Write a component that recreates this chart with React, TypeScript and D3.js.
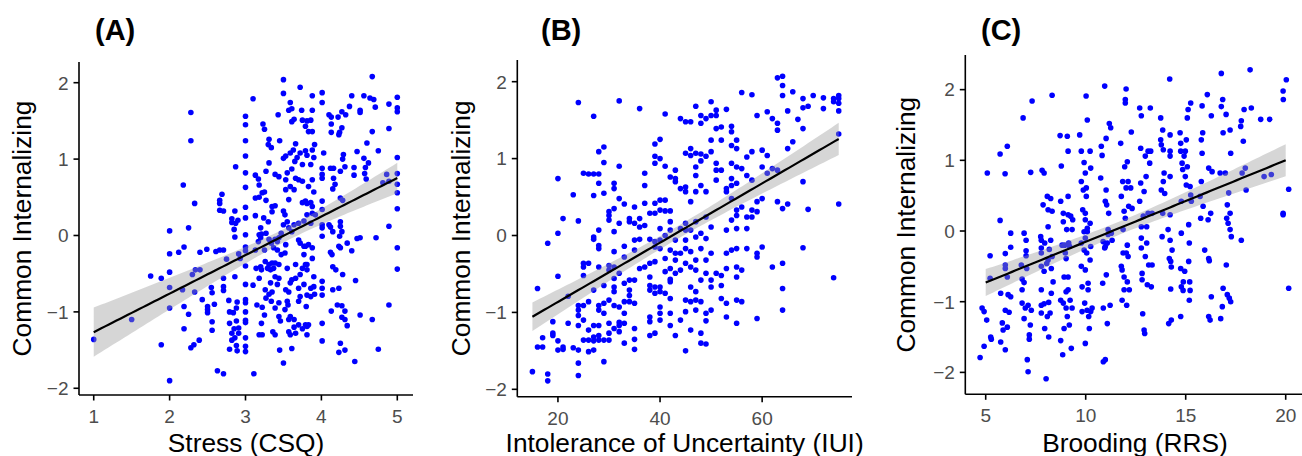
import * as d3 from "d3";
import { useEffect } from "react";

// tick values
const yTicks = [-2, -1, 0, 1, 2];
const stressTicks = [1, 2, 3, 4, 5];
const iuiTicks = [20, 40, 60];
const rrsTicks = [5, 10, 15, 20];

// (A) Stress (CSQ) vs Common Internalizing
const stressPoints: [number, number][] = [
  [1,-1.36],[1.5,-1.1],[1.75,-0.53],[1.89,-1.43],[1.89,-0.56],[2,-1.9],[2,-0.95],[2,-0.68],[2,-0.48],[2,-0.24],[2,0.06],
  [2.12,-0.22],[2.18,0.66],[2.19,-0.15],[2.19,-0.93],[2.19,-1.22],[2.17,-0.71],[2.25,0.1],[2.25,-1.03],[2.28,1.61],[2.28,1.24],
  [2.28,-1.47],[2.3,-0.51],[2.32,-1.43],[2.33,0.42],[2.33,-0.74],[2.34,-0.45],[2.39,-1.37],[2.4,-0.22],[2.4,-0.45],[2.43,-0.84],
  [2.49,-0.18],[2.5,-0.93],[2.5,-0.97],[2.5,-1.01],[2.55,-0.68],[2.56,-0.75],[2.56,-1.13],[2.56,-1.24],[2.59,-0.9],[2.61,-0.21],
  [2.63,-1.77],[2.66,-0.19],[2.66,0.46],[2.66,0.42],[2.66,0.33],[2.69,0.54],[2.71,0.32],[2.71,-0.19],[2.71,-0.67],[2.71,-0.72],
  [2.71,-1.81],[2.71,-0.56],[2.75,-0.31],[2.78,-0.85],[2.79,-1],[2.79,-1.15],[2.79,-1.49],[2.82,0.22],[2.82,0.17],[2.82,-1.28],
  [2.82,-1.37],[2.84,-1.01],[2.85,-1.22],[2.86,-0.02],[2.86,-0.54],[2.86,0.32],[2.87,0.9],[2.87,0.16],[2.88,-1.12],[2.88,-1.44],
  [2.89,-1.51],[2.89,-0.87],[2.9,0.2],[2.91,-0.24],[2.91,-1.21],[2.91,-1.28],[2.93,-0.3],[2.85,0.08],[2.88,-0.95],[2.86,-1.34],
  [3,1.56],[3,1.45],[3,1.24],[3,1.04],[3,0.82],[3,0.63],[3,0.37],[3,0.23],[3,0.01],[3,-0.15],[3,-0.2],[3,-0.4],[3,-0.64],
  [3,-0.84],[3,-0.88],[3,-1],[3,-1.11],[3,-1.14],[3,-1.34],[3,-1.45],[3,-1.52],
  [3.1,1.79],[3.23,1.46],[3.25,1.39],[3.13,0.79],[3.17,0.74],[3.18,0.66],[3.22,0.56],[3.13,0.49],[3.18,0.5],[3.13,0.26],
  [3.2,0.1],[3.18,0.01],[3.2,-0.03],[3.17,-0.08],[3.21,0.02],[3.13,-0.19],[3.14,-0.43],[3.2,-0.41],[3.21,-0.45],[3.18,-0.56],
  [3.1,-0.65],[3.15,-0.91],[3.22,-0.94],[3.21,-1.15],[3.18,-1.3],[3.22,-1.3],[3.11,-1.81],
  [3.5,2.04],[3.5,1.86],[3.43,1.58],[3.31,1.26],[3.3,1.19],[3.34,1.15],[3.31,0.95],[3.45,1.24],[3.27,0.84],[3.39,0.8],
  [3.44,0.77],[3.25,0.57],[3.27,0.46],[3.35,0.38],[3.39,0.39],[3.24,0.23],[3.3,0.18],[3.35,0.31],[3.27,0.03],[3.31,-0.05],
  [3.34,-0.1],[3.39,-0.05],[3.42,-0.08],[3.44,-0.03],[3.47,0.03],[3.37,-0.16],[3.42,-0.19],[3.26,-0.34],[3.31,-0.38],
  [3.35,-0.36],[3.39,-0.36],[3.44,-0.38],[3.29,-0.43],[3.33,-0.45],[3.37,-0.43],[3.25,-0.19],[3.47,-0.25],[3.39,-0.54],
  [3.44,-0.56],[3.33,-0.62],[3.42,-0.64],[3.26,-0.71],[3.31,-0.77],[3.35,-0.74],[3.27,-0.82],[3.34,-0.86],[3.44,-0.88],
  [3.39,-0.95],[3.25,-1.04],[3.44,-1.06],[3.46,-1.12],[3.36,-1.26],[3.39,-1.3],[3.45,-1.5],[3.5,-1.67],
  [3.59,1.74],[3.61,1.66],[3.72,1.94],[3.57,1.64],[3.74,1.64],[3.64,1.52],[3.61,1.49],[3.75,1.51],[3.66,1.2],[3.63,1.12],
  [3.59,1.08],[3.53,1.04],[3.5,1.01],[3.72,1.08],[3.68,1.02],[3.65,0.97],[3.75,0.93],[3.61,0.87],[3.66,0.75],[3.7,0.73],
  [3.55,0.82],[3.53,0.73],[3.75,0.71],[3.59,0.64],[3.53,0.6],[3.64,0.6],[3.57,0.47],[3.5,0.32],[3.52,0.27],[3.75,0.43],
  [3.55,0.18],[3.64,0.14],[3.7,0.16],[3.5,0.14],[3.57,0.1],[3.61,0.05],[3.53,-0.12],[3.72,-0.1],[3.77,-0.14],[3.52,-0.23],
  [3.7,-0.06],[3.66,-0.38],[3.75,-0.43],[3.79,-0.38],[3.55,-0.43],[3.61,-0.58],[3.66,-0.56],[3.72,-0.51],[3.59,-0.62],
  [3.53,-0.71],[3.57,-0.74],[3.7,-0.69],[3.77,-0.64],[3.72,-0.8],[3.7,-0.86],[3.55,-0.86],[3.52,-0.97],[3.56,-0.91],
  [3.59,-1.06],[3.64,-1.1],[3.64,-1.2],[3.57,-1.26],[3.59,-1.3],[3.7,-1.17],[3.75,-1.22],[3.57,-1.1],[3.61,-1.48],
  [3.66,-1.28],[3.79,-1.17],[3.81,-1.19],
  [3.88,1.83],[4.01,1.87],[4.01,1.74],[3.88,1.64],[3.86,1.51],[3.81,1.5],[3.83,1.36],[3.88,1.36],[3.79,1.43],[3.91,1.19],
  [3.88,1.12],[3.79,1.11],[3.81,1.05],[3.9,1.02],[4.03,1.08],[3.86,0.93],[4.01,0.88],[4.01,0.8],[4.01,0.75],[3.88,0.73],
  [3.83,0.64],[3.79,0.45],[3.86,0.43],[3.9,0.57],[3.81,0.42],[3.88,0.38],[4.01,0.45],[3.88,0.29],[3.81,0.27],[3.92,0.27],
  [4.01,0.34],[3.86,0.16],[3.77,0.19],[4.01,0.14],[4.01,0.1],[4.01,-0.01],[3.79,-0.14],[3.83,-0.12],[3.88,-0.16],
  [3.77,-0.25],[3.88,-0.3],[3.81,-0.38],[3.81,-0.45],[3.9,-0.54],[3.9,-0.67],[3.86,-0.69],[4.01,-0.6],[4.01,-0.69],
  [4.01,-0.78],[3.81,-0.78],[3.86,-0.8],[3.91,-0.77],[3.8,-0.93],[3.83,-1.17],[3.81,-1.3],[4.01,-1.15],[4.01,-1.38],
  [4.1,1.58],[4.13,1.55],[4.22,1.55],[4.27,1.62],[4.32,1.58],[4.13,1.46],[4.13,1.35],[4.27,1.41],[4.24,1.35],[4.23,1.32],
  [4.12,0.88],[4.16,0.88],[4.16,0.75],[4.18,0.67],[4.15,0.61],[4.29,1.06],[4.28,1],[4.31,0.9],[4.25,0.84],[4.25,0.49],
  [4.28,0.46],[4.1,0.14],[4.12,0.11],[4.15,0.05],[4.25,0.18],[4.25,0.12],[4.27,0.05],[4.24,-0.01],[4.12,-0.22],
  [4.14,-0.25],[4.25,-0.16],[4.23,-0.14],[4.34,-0.1],[4.4,-0.2],[4.15,-0.41],[4.19,-0.45],[4.28,-0.51],[4.23,-0.69],
  [4.15,-0.71],[4.21,-0.91],[4.27,-0.92],[4.31,-0.99],[4.13,-0.99],[4.27,-1.07],[4.31,-1.1],[4.34,-1.18],[4.25,-1.41],
  [4.23,-1.53],[4.31,-1.5],[4.45,-0.59],[4.44,-1.65],
  [4.4,1.83],[4.56,1.83],[4.37,1.69],[4.51,1.64],[4.51,1.61],[4.67,2.08],[4.64,1.8],[4.69,1.78],[4.71,1.68],[4.67,1.36],
  [4.75,1.11],[4.6,1.21],[4.56,1.01],[4.47,1.1],[4.43,0.89],[4.43,0.79],[4.58,0.89],[4.57,0.81],[4.62,0.95],[4.59,0.74],
  [4.81,0.69],[4.86,0.8],[4.89,0.71],[4.89,1.72],[4.89,1.4],[5,1.81],[5,1.67],[5,1.62],[5,1.02],[5,0.81],[5,0.67],
  [5,0.56],[5,0.35],[5,-0.16],[5,-0.44],[4.89,0.12],[4.72,-0.03],[4.51,-0.03],[4.47,-0.04],[4.89,-0.91],[4.51,-1.04],
  [4.67,-1.1],[4.75,-1.49],
];

// (B) Intolerance of Uncertainty (IUI) vs Common Internalizing
const iuiPoints: [number, number][] = [
  [15,-1.77],[16,-0.69],[16,-1.45],[17,-1.45],[17,-1.33],[18,-0.1],[18,-1.8],[18,-1.89],[19,-1.12],[19,-1.27],[19,-1.3],
  [20,0.74],[20,0.03],[20,-0.53],[20,-1.37],[20,-1.49],[21,0.22],[21,-1.45],[21,-1.48],[22,-0.79],[22,-1.14],[23,0.53],
  [23,-1.46],[24,1.73],[24,0.19],[24,-0.91],[24,-0.97],[24,-1.04],[24,-1.17],[24,-1.49],[24,-1.66],[24,-1.82],
  [25,0.81],[25,-0.36],[25,-0.41],[25,-0.52],[25,-0.91],[25,-1.1],[25,-1.36],[26,0.8],[26,-0.36],[26,-0.86],[26,-1.23],
  [26,-1.36],[26,-1.51],[27,0.8],[27,1.55],[27,0.52],[27,-0.02],[27,-0.05],[27,-0.71],[27,-1.32],[27,-1.49],[27,-1.17],
  [27,-1.37],[28,0.8],[28,1.09],[28,0.68],[28,0.07],[28,-0.13],[28,-0.17],[28,-0.41],[28,-0.91],[28,-0.97],[28,-1.17],
  [28,-1.3],[28,-1.36],[29,1.15],[29,0.95],[29,0.55],[29,-0.65],[29,-0.88],[29,-1.01],[29,-1.36],[29,-1.64],
  [30,0.31],[30,0.26],[30,0.2],[30,-0.39],[30,-0.45],[30,-0.84],[30,-1.14],[30,-1.27],[30,-1.36],
  [31,0.68],[31,0.61],[31,0.35],[31,0.05],[31,-0.21],[31,-0.41],[31,-0.56],[31,-0.67],[31,-0.73],[31,-0.91],[31,-1.21],
  [32,1.75],[32,0.9],[32,0.48],[32,0.16],[32,-0.49],[32,-0.93],[32,-1.17],[32,-1.25],[32,-1.13],
  [33,0.41],[33,-0.14],[33,-0.28],[33,-0.62],[33,-0.86],[33,-1.01],[33,-1.14],[33,-1.4],
  [34,0.18],[34,0.22],[34,-0.58],[34,-0.71],[34,-0.78],[34,-0.86],
  [35,0.37],[35,0.16],[35,-0.06],[35,-0.19],[35,-0.58],[35,-0.88],[35,-1.21],[35,-1.35],[35,-1.48],
  [36,1.65],[36,0.22],[36,0.11],[36,-0.05],[36,-0.43],[37,0.81],[37,0.65],[37,0.42],[37,0.13],[37,-0.41],
  [38,0.29],[38,-0.05],[38,-0.54],[38,-0.65],[38,-0.71],[38,-1.06],[38,-1.12],[38,-1.3],[38,-0.36],
  [39,1.19],[39,1.03],[39,0.94],[39,0.42],[39,0.29],[39,-0.08],[39,-0.15],[39,-0.34],[39,-0.67],[39,-0.75],[39,-1.27],
  [40,1.25],[40,1],[40,0.46],[40,0.33],[40,0.09],[40,-0.06],[40,-0.17],[40,-0.67],[40,-0.73],[40,-0.93],[40,-1.01],[40,-1.1],
  [41,1.58],[41,0.9],[41,0.46],[41,0.32],[41,0],[41,-0.3],[41,-0.47],[41,-0.75],
  [42,0.76],[42,0.32],[42,0.18],[42,0.07],[42,-0.19],[42,-0.43],[42,-0.57],[42,-0.6],[42,-0.82],[42,-1.01],[42,-1.17],
  [43,0.85],[43,0.74],[43,0.7],[43,-0.06],[43,-0.23],[43,-0.32],[43,-0.49],[43,-1.3],
  [44,1.52],[44,0.61],[44,0.09],[44,-0.23],[44,-0.45],[44,-1.1],
  [45,1.48],[45,1.07],[45,0.63],[45,0.57],[45,0.16],[45,0.07],[45,-0.06],[45,-0.17],[45,-0.36],[45,-0.84],[45,-0.99],[45,-1.5],
  [46,1.48],[46,1.13],[46,1.04],[46,0.44],[46,0.07],[46,-0.21],[46,-0.41],[46,-0.67],[46,-0.86],[46,-1.23],
  [47,1.68],[47,1.07],[47,0.89],[47,0.78],[47,0.57],[47,0.18],[47,-0.02],[47,-0.32],[47,-0.45],[47,-0.73],[47,-0.84],[47,-0.97],
  [48,1.56],[48,1.46],[48,1.06],[48,0.97],[48,0.65],[48,0.03],[48,-0.17],[48,-0.58],[48,-0.86],[48,-1.27],[48,-1.4],
  [49,1.52],[49,1.03],[49,0.57],[49,0.24],[49,-0.04],[49,-0.32],[49,-0.49],[49,-1.01],[49,-1.11],[49,-1.41],
  [50,1.74],[50,1.56],[50,1.24],[50,1.09],[50,0.11],[50,-0.23],[50,-0.58],[50,-0.67],[50,-0.97],
  [51,1.63],[51,1.56],[51,1.39],[51,0.94],[51,0.85],[51,0.72],[51,-0.49],
  [52,1.41],[52,1.24],[52,0.85],[52,-0.52],[52,-0.65],[52,-0.82],
  [53,1.64],[53,0.61],[53,0.57],[53,0.07],[53,-0.23],[53,-0.43],[53,-0.88],[53,-1.06],
  [54,1.42],[54,1.35],[54,1.17],[54,0.94],[54,0.74],[54,0.65],[54,0.48],[54,0.2],[54,-0.19],
  [55,1.24],[55,1.13],[55,0.89],[55,0.68],[55,0.33],[55,0.26],[55,0.09],[55,-0.17],[55,-0.41],[55,-0.54],[55,-0.84],[55,-1.14],
  [56,1.86],[56,0.87],[56,0.37],[56,-0.45],[56,-0.86],[57,1.02],[57,0.78],[57,0.24],[57,0.09],[57,-0.17],
  [58,1.83],[58,1.09],[58,0.72],[58,0.33],[58,0.24],[59,1.56],[59,0.44],[59,0.31],[59,-0.23],[59,-0.28],[59,-1.08],
  [60,1.11],[60,0.89],[60,0.48],[60,-0.15],[61,1.61],[61,1.04],[61,0.81],[62,1.52],[62,0.87],[62,-0.41],
  [63,1.46],[63,1.37],[63,0.85],[63,0.44],[63,2.05],[64,2.07],[64,1.95],[64,1.82],[64,0.35],[64,-0.36],[64,-0.69],[64,-0.97],
  [65,1.62],[65,1.13],[65,0.41],[66,1.87],[66,1.22],[67,1.51],[68,1.78],[68,1.66],[68,1.39],[68,0.7],[68,-0.16],
  [69,1.68],[69,0.34],[70,1.82],[72,1.79],[72,1.65],[74,1.78],[74,1.74],[74,-0.55],[75,1.82],[75,1.78],[75,1.72],
  [75,1.62],[75,1.32],[75,0.41],
];

// (C) Brooding (RRS) vs Common Internalizing
const rrsPoints: [number, number][] = [
  [4.72,-1.79],[4.82,-1.09],[4.92,-1.14],[4.92,-1.63],[5.05,-1.26],[5.08,0.82],[5.22,-0.35],[5.22,-0.67],[5.25,-1.5],
  [5.28,-1.53],[5.72,0.15],[5.72,1.09],[5.75,-0.88],[5.75,-1.57],[5.83,-1.3],[5.87,-1.4],[5.97,0.81],[5.98,-0.32],
  [5.98,-0.48],[5.98,-0.53],[5.98,-1.12],[5.98,-1.68],[6.08,1.2],[6.08,-0.65],[6.08,-1.36],[6.12,-0.9],[6.17,-1.15],
  [6.25,-0.03],[6.25,-0.23],[6.25,-0.93],[6.78,-0.48],[6.82,-0.68],[6.82,-0.83],[6.82,-1.02],[6.87,1.6],[6.92,-0.03],
  [6.92,-0.73],[6.92,-1.24],[6.98,-1.09],[7.02,-0.13],[7.02,-0.28],[7.02,-0.35],[7.05,-0.53],[7.08,-1.82],[7.12,-1.99],
  [7.12,-1.05],[7.18,-1.47],[7.18,-1.53],[7.23,-1.33],[7.25,0.83],[7.28,-1.12],[7.32,1.84],
  [7.75,-0.08],[7.78,-0.13],[7.78,-0.24],[7.78,-0.31],[7.78,-0.5],[7.78,-0.83],[7.78,-1.05],[7.78,-1.16],[7.82,0.86],
  [7.87,0.37],[7.92,0.82],[7.92,-0.57],[7.92,-1.03],[7.95,-1.38],[7.95,-0.17],[8.02,-2.09],[8.05,-0.46],[8.08,0.49],
  [8.08,-1.21],[8.12,0.06],[8.12,0.3],[8.12,-0.41],[8.15,-1.01],[8.15,-1.5],[8.18,-0.26],[8.22,-1.16],[8.25,0.46],
  [8.25,-0.13],[8.28,-0.53],[8.28,-0.88],[8.32,1.92],[8.32,0.28],[8.32,-0.36],[8.37,-0.72],
  [8.72,1.35],[8.75,0.42],[8.75,-0.98],[8.75,-1.55],[8.78,0.92],[8.82,-0.2],[8.85,-1.75],[8.88,0.25],[8.88,0.13],
  [8.88,-1.02],[8.92,-0.65],[8.92,-1.38],[8.95,-0.2],[8.98,-0.31],[9.02,-0.39],[9.02,-0.86],[9.02,-1.09],[9.05,0.02],
  [9.08,-1.21],[9.08,1.34],[9.12,1.13],[9.12,0.49],[9.12,0.23],[9.12,-0.65],[9.12,-0.83],[9.15,-0.17],[9.18,-1.33],
  [9.2,-0.22],[9.22,-0.98],[9.25,0.21],[9.28,-1.66],[9.32,0.02],[9.32,-1.09],[9.35,0.16],
  [9.7,1.36],[9.78,0.7],[9.78,1.13],[9.78,-0.17],[9.78,-0.5],[9.82,-0.79],[9.82,-1.14],[9.85,0.3],[9.88,0.58],[9.92,0.97],
  [9.92,-0.01],[9.92,-0.27],[9.95,-1.02],[9.98,0.82],[9.98,0.25],[9.98,0.16],[9.98,-0.1],[9.98,-0.55],[9.98,-1.59],
  [10.02,1.91],[10.03,0.61],[10.03,0.49],[10.05,-0.31],[10.07,-1.12],[10.08,1.57],[10.08,0.04],[10.08,-0.01],[10.12,-0.74],
  [10.12,-0.83],[10.15,-1.21],[10.18,-1.38],[10.22,1.13],[10.22,0.11],[10.22,-0.41],[10.25,0.89],[10.25,-0.22],[10.25,-1.14],
  [10.32,-1.09],
  [10.75,0.75],[10.78,1.2],[10.82,1.07],[10.85,-0.74],[10.87,-0.15],[10.88,-1.09],[10.88,-1.85],[10.95,2.05],[10.95,-0.24],
  [10.98,-1.82],[10.98,0.42],[10.98,-0.22],[11.02,1.31],[11.02,0.58],[11.03,-0.62],[11.05,0.37],[11.08,-1.31],[11.08,-0.17],
  [11.12,0.02],[11.12,-0.05],[11.15,0.25],[11.18,1.52],[11.22,-1.05],[11.25,1.46],[11.28,-0.03],[11.32,-0.13],
  [11.75,1.24],[11.78,0.49],[11.78,-0.5],[11.82,-0.55],[11.82,-0.98],[11.85,0.7],[11.87,0.02],[11.87,-0.31],[11.92,0.28],
  [11.92,-0.65],[11.92,-0.83],[11.95,0.91],[11.98,1.86],[11.98,1.81],[11.98,0.18],[12.02,2.01],[12.02,0.61],[12.03,-0.31],
  [12.05,-1.05],[12.08,0.98],[12.08,-0.2],[12.08,-0.72],[12.12,0.7],[12.12,-0.36],[12.15,0.35],[12.18,-0.83],[12.25,0.61],
  [12.28,1.4],[12.32,0.32],
  [12.7,1.74],[12.7,0.42],[12.75,1.17],[12.75,0.68],[12.78,1.63],[12.78,0.06],[12.78,-0.1],[12.78,-0.24],[12.82,-0.6],
  [12.82,-0.69],[12.85,-1.17],[12.88,0.21],[12.92,0.56],[12.92,-1.4],[12.95,-1.45],[12.98,1.06],[12.98,-0.36],[13.02,0.77],
  [13.05,0.06],[13.05,-0.17],[13.08,-0.76],[13.12,1.13],[13.12,0.25],[13.15,-0.48],[13.2,0.96],[13.23,1.74],[13.25,1.13],
  [13.28,-0.79],[13.32,-0.48],[13.32,0.25],
  [13.75,1.6],[13.75,1.29],[13.78,1.22],[13.78,0.58],[13.82,-0.08],[13.85,1.43],[13.85,0.25],[13.88,1.15],[13.88,0.7],
  [13.92,0.82],[13.95,0.53],[14.12,0.02],[14.15,-1.31],[14.18,-0.39],[14.2,2.15],[14.22,1.36],[14.22,1.13],[14.22,1.06],
  [14.22,0.77],[14.22,0.23],[14.22,-0.13],[14.25,-0.43],[14.25,-0.82],[14.28,-1.26],[14.28,-0.51],[14.32,-0.27],
  [14.72,1.39],[14.75,1.24],[14.75,1.13],[14.75,-0.53],[14.75,-1.21],[14.78,0.42],[14.78,-0.03],[14.78,-0.79],[14.82,0.96],
  [14.85,0.87],[14.87,-0.84],[14.88,-0.72],[14.92,1.06],[14.95,-0.57],[14.98,1.13],[14.98,0.77],[15.03,1.29],[15.03,0.65],
  [15.08,1.6],[15.08,0.91],[15.12,1.72],[15.15,-0.43],[15.15,0.09],[15.18,-0.17],[15.18,-0.98],[15.2,-0.72],[15.22,-0.84],
  [15.22,0.63],[15.25,1.81],[15.25,0.51],[15.28,0.42],
  [15.72,0.49],[15.75,0.18],[15.78,1.29],[15.78,0.7],[15.82,1.77],[15.82,1.1],[15.85,1.39],[15.87,0.35],[15.95,-0.27],
  [16.08,1.93],[16.12,0.16],[16.15,0.89],[16.15,-0.39],[16.15,-1.21],[16.18,-0.42],[16.22,-1.26],[16.25,0.25],[16.28,1.63],
  [16.28,-0.93],[16.32,0.84],
  [16.72,0.82],[16.75,-1.24],[16.78,2.23],[16.78,1.76],[16.83,-1.07],[16.85,1.86],[16.87,1.39],[16.87,-0.81],[16.98,0.82],
  [17.02,1.65],[17.03,-0.48],[17.05,0.18],[17.08,0.37],[17.08,-0.9],[17.12,0.11],[17.15,0.54],[17.18,-0.95],[17.22,1.43],
  [17.22,0.25],[17.22,0.02],[17.25,1.1],[17.25,-1],[17.28,-0.08],
  [17.75,1.48],[17.78,-0.13],[17.78,1.56],[17.82,0.82],[17.88,1.27],[17.92,1.72],[17.98,0.89],[18.02,0.58],[18.22,2.28],
  [18.28,1.74],[18.75,1.58],[18.92,0.77],[19.2,1.58],[19.28,0.8],[19.87,1.98],[19.88,1.86],[19.87,0.25],[19.87,0.23],
  [20.03,2.14],[20.15,0.59],[20.15,-0.81],
];

type Pt = [number, number];

const panels = [
  {
    key: "A", title: "(A)", xLabel: "Stress (CSQ)", points: stressPoints, xTicks: stressTicks, fitRange: [1, 5],
    xDomain: [0.806, 5.207], yDomain: [-2.088, 2.271], xRange: [79, 413], yRange: [395, 62],
    titleX: 95, yTitleX: 30.5,
  },
  {
    key: "B", title: "(B)", xLabel: "Intolerance of Uncertainty (IUI)", points: iuiPoints, xTicks: iuiTicks, fitRange: [15, 75],
    xDomain: [12.04, 77.6], yDomain: [-2.096, 2.282], xRange: [517.3, 852], yRange: [396.7, 60],
    titleX: 541, yTitleX: 469.5,
  },
  {
    key: "C", title: "(C)", xLabel: "Brooding (RRS)", points: rrsPoints, xTicks: rrsTicks, fitRange: [5, 20],
    xDomain: [3.98, 20.95], yDomain: [-2.31, 2.49], xRange: [965.3, 1304.7], yRange: [394.3, 55],
    titleX: 981, yTitleX: 915,
  },
];

function fitLine(points: Pt[], range: number[]) {
  const n = points.length;
  const mx = d3.mean(points, (d) => d[0]) as number;
  const my = d3.mean(points, (d) => d[1]) as number;
  const sxx = d3.sum(points, (d) => (d[0] - mx) ** 2);
  const sxy = d3.sum(points, (d) => (d[0] - mx) * (d[1] - my));
  const b = sxy / sxx;
  const a = my - b * mx;
  const sse = d3.sum(points, (d) => (d[1] - a - b * d[0]) ** 2);
  const s = Math.sqrt(sse / (n - 2));
  const t = 1.966;
  return d3.range(81).map((i) => {
    const x = range[0] + ((range[1] - range[0]) * i) / 80;
    const y = a + b * x;
    const se = s * Math.sqrt(1 / n + (x - mx) ** 2 / sxx);
    return { x, y, lo: y - t * se, hi: y + t * se };
  });
}

const FONT = "'Liberation Sans', Arial, Helvetica, sans-serif";
const fmt = (v: number) => (v < 0 ? "\u2212" + Math.abs(v) : String(v));

function Panel({ p }: { p: (typeof panels)[number] }) {
  const x = d3.scaleLinear().domain(p.xDomain).range(p.xRange);
  const y = d3.scaleLinear().domain(p.yDomain).range(p.yRange);
  const fit = fitLine(p.points as Pt[], p.fitRange);
  const band = d3
    .area<{ x: number; lo: number; hi: number }>()
    .x((d) => x(d.x))
    .y0((d) => y(d.lo))
    .y1((d) => y(d.hi));
  const line = d3
    .line<{ x: number; y: number }>()
    .x((d) => x(d.x))
    .y((d) => y(d.y));
  const [x0, x1] = p.xRange;
  const [yb, yt] = p.yRange;
  const tick = 5.5;
  return (
    <g>
      <text x={p.titleX} y={40} fontFamily={FONT} fontWeight="bold" fontSize={29} fill="#000">
        {p.title}
      </text>
      {p.points.map((d, i) => (
        <circle key={i} cx={x(d[0])} cy={y(d[1])} r={2.8} fill="#0000ff" />
      ))}
      <path d={band(fit) ?? ""} fill="#999999" fillOpacity={0.4} />
      <path d={line(fit) ?? ""} fill="none" stroke="#000" strokeWidth={2.2} />
      {/* axes */}
      <line x1={x0} x2={x0} y1={yt} y2={yb} stroke="#000" strokeWidth={1.6} />
      <line x1={x0} x2={x1} y1={yb} y2={yb} stroke="#000" strokeWidth={1.6} />
      {yTicks.map((v) => (
        <g key={"y" + v}>
          <line x1={x0 - tick} x2={x0} y1={y(v)} y2={y(v)} stroke="#000" strokeWidth={1.6} />
          <text
            x={x0 - tick - 5}
            y={y(v)}
            dy="0.36em"
            textAnchor="end"
            fontFamily={FONT}
            fontSize={19}
            fill="#4d4d4d"
          >
            {fmt(v)}
          </text>
        </g>
      ))}
      {p.xTicks.map((v) => (
        <g key={"x" + v}>
          <line x1={x(v)} x2={x(v)} y1={yb} y2={yb + tick} stroke="#000" strokeWidth={1.6} />
          <text x={x(v)} y={yb + 28} textAnchor="middle" fontFamily={FONT} fontSize={19} fill="#4d4d4d">
            {fmt(v)}
          </text>
        </g>
      ))}
      <text
        x={(x0 + x1) / 2}
        y={451.5}
        textAnchor="middle"
        fontFamily={FONT}
        fontSize={26.3}
        fill="#000"
      >
        {p.xLabel}
      </text>
      <text
        transform={`translate(${p.yTitleX},${(yb + yt) / 2}) rotate(-90)`}
        textAnchor="middle"
        fontFamily={FONT}
        fontSize={26.3}
        fill="#000"
      >
        Common Internalizing
      </text>
    </g>
  );
}

export default function App() {
  useEffect(() => {
    document.body.style.margin = "0";
  }, []);
  return (
    <svg width={1302} height={456} viewBox="0 0 1302 456" style={{ display: "block", background: "#fff" }}>
      <rect width={1302} height={456} fill="#fff" />
      {panels.map((p) => (
        <Panel key={p.key} p={p} />
      ))}
    </svg>
  );
}
